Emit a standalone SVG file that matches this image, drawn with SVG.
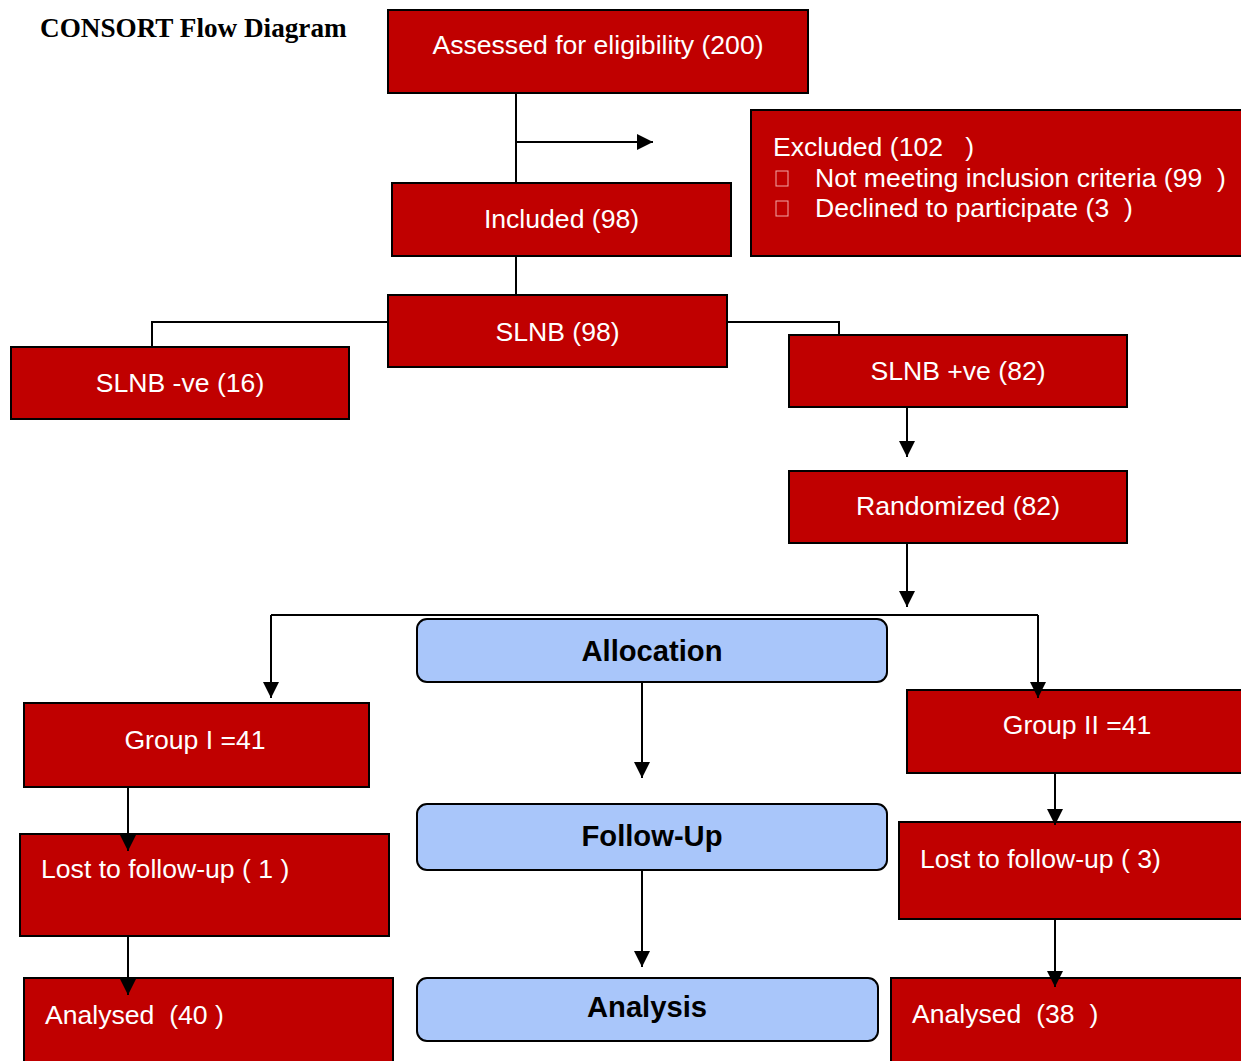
<svg xmlns="http://www.w3.org/2000/svg" width="1241" height="1061" viewBox="0 0 1241 1061">
<defs>
<style>
.red{fill:#c00000;stroke:#000;stroke-width:2}
.blue{fill:#a9c6fa;stroke:#000;stroke-width:2}
.t{font-family:"Liberation Sans",Arial,sans-serif;font-size:26.6px;fill:#fff}
.c{text-anchor:middle}
.pre{white-space:pre}
.b{font-family:"Liberation Sans",Arial,sans-serif;font-size:29.2px;font-weight:bold;fill:#000;text-anchor:middle}
.ln{fill:none;stroke:#000;stroke-width:2}
.bul{fill:none;stroke:#f2a8a8;stroke-width:1}
</style>
<marker id="ah" viewBox="0 0 10 10" refX="10" refY="5" markerWidth="8" markerHeight="8" markerUnits="strokeWidth" orient="auto">
<path d="M0,0 L10,5 L0,10 z" fill="#000"/>
</marker>
</defs>
<rect width="1241" height="1061" fill="#fff"/>
<text x="40" y="37" font-family="Liberation Serif,Times New Roman,serif" font-size="27.2" font-weight="bold" fill="#000">CONSORT Flow Diagram</text>

<g id="assessed">
<rect class="red" x="388" y="10" width="420" height="83"/>
<text class="t c" x="598" y="54">Assessed for eligibility (200)</text>
</g>
<g id="excluded">
<rect class="red" x="751" y="110" width="510" height="146"/>
<text class="t pre" x="773" y="156">Excluded (102   )</text>
<rect class="bul" x="776" y="171" width="12" height="15"/>
<text class="t pre" x="815" y="187">Not meeting inclusion criteria (99  )</text>
<rect class="bul" x="776" y="201" width="12" height="15"/>
<text class="t pre" x="815" y="217">Declined to participate (3  )</text>
</g>
<g id="included">
<rect class="red" x="392" y="183" width="339" height="73"/>
<text class="t c" x="561.5" y="228">Included (98)</text>
</g>
<g id="slnb">
<rect class="red" x="388" y="295" width="339" height="72"/>
<text class="t c" x="557.5" y="341">SLNB (98)</text>
</g>
<g id="slnb-neg">
<rect class="red" x="11" y="347" width="338" height="72"/>
<text class="t c" x="180" y="392">SLNB -ve (16)</text>
</g>
<g id="slnb-pos">
<rect class="red" x="789" y="335" width="338" height="72"/>
<text class="t c" x="958" y="380">SLNB +ve (82)</text>
</g>
<g id="randomized">
<rect class="red" x="789" y="471" width="338" height="72"/>
<text class="t c" x="958" y="515">Randomized (82)</text>
</g>
<g id="allocation">
<rect class="blue" x="417" y="619" width="470" height="63" rx="10"/>
<text class="b" x="652" y="661">Allocation</text>
</g>
<g id="followup">
<rect class="blue" x="417" y="804" width="470" height="66" rx="10"/>
<text class="b" x="652" y="846">Follow-Up</text>
</g>
<g id="analysis">
<rect class="blue" x="417" y="978" width="461" height="63" rx="10"/>
<text class="b" x="647" y="1017">Analysis</text>
</g>
<g id="group1">
<rect class="red" x="24" y="703" width="345" height="84"/>
<text class="t c" x="195" y="749">Group I =41</text>
</g>
<g id="lost1">
<rect class="red" x="20" y="834" width="369" height="102"/>
<text class="t pre" x="41" y="878">Lost to follow-up ( 1 )</text>
</g>
<g id="analysed1">
<rect class="red" x="24" y="978" width="369" height="100"/>
<text class="t pre" x="45" y="1024">Analysed  (40 )</text>
</g>
<g id="group2">
<rect class="red" x="907" y="690" width="360" height="83"/>
<text class="t c" x="1077" y="734">Group II =41</text>
</g>
<g id="lost2">
<rect class="red" x="899" y="822" width="370" height="97"/>
<text class="t pre" x="920" y="868">Lost to follow-up ( 3)</text>
</g>
<g id="analysed2">
<rect class="red" x="891" y="978" width="380" height="100"/>
<text class="t pre" x="912" y="1023">Analysed  (38  )</text>
</g>

<g id="connectors">
<path class="ln" d="M516,93 V183"/>
<path class="ln" d="M516,142 H653" marker-end="url(#ah)"/>
<path class="ln" d="M516,256 V295"/>
<path class="ln" d="M388,322 H152 V347"/>
<path class="ln" d="M727,322 H839 V335"/>
<path class="ln" d="M907,407 V457" marker-end="url(#ah)"/>
<path class="ln" d="M907,543 V607" marker-end="url(#ah)"/>
<path class="ln" d="M271,615 H1038"/>
<path class="ln" d="M271,615 V698" marker-end="url(#ah)"/>
<path class="ln" d="M1038,615 V698" marker-end="url(#ah)"/>
<path class="ln" d="M128,787 V851" marker-end="url(#ah)"/>
<path class="ln" d="M128,936 V995" marker-end="url(#ah)"/>
<path class="ln" d="M1055,773 V825" marker-end="url(#ah)"/>
<path class="ln" d="M1055,919 V987" marker-end="url(#ah)"/>
<path class="ln" d="M642,682 V778" marker-end="url(#ah)"/>
<path class="ln" d="M642,870 V967" marker-end="url(#ah)"/>
</g>
</svg>
